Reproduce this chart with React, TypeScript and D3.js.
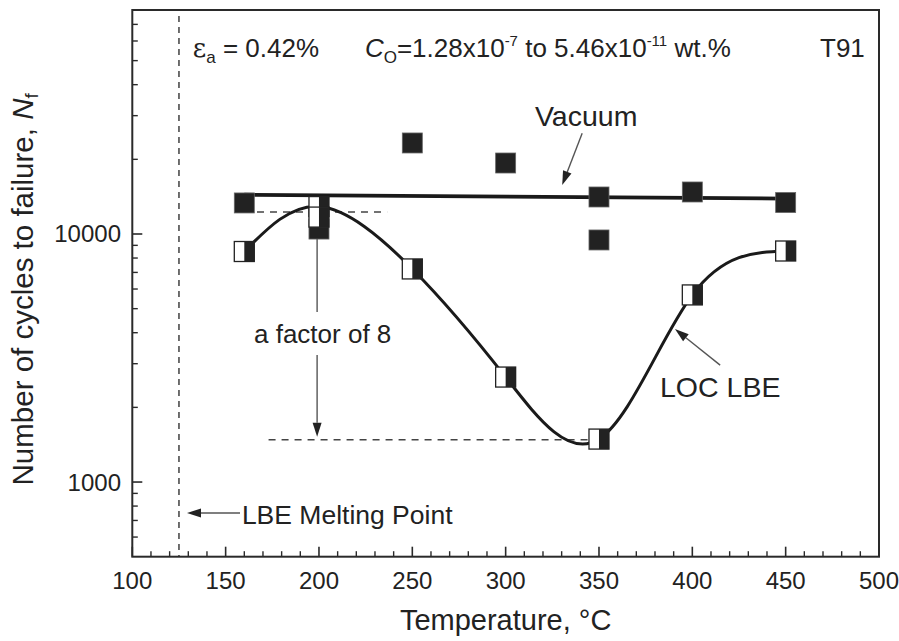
import React from 'react';
import * as d3 from 'd3';

const W = 899;
const H = 641;
const PX = { left: 132.3, right: 879, top: 10, bottom: 556.7 };

// Axis definitions
const xDomain = [100, 500];
const yDomain = [500, 80000];
const xTickLabels = [100, 150, 200, 250, 300, 350, 400, 450, 500];
const yTickLabels = [1000, 10000];

// Vacuum (filled squares)
const vacuumT = [160, 200, 250, 300, 350, 350, 400, 450];
const vacuumN = [13340, 10470, 23280, 19330, 14100, 9460, 14770, 13390];
// Vacuum fit line
const vacuumFitT = [160, 450];
const vacuumFitN = [14400, 13900];

// LOC LBE (half-filled squares)
const lbeT = [160, 200, 200, 250, 300, 350, 400, 450];
const lbeN = [8500, 12900, 11700, 7230, 2650, 1490, 5680, 8540];
// LOC LBE smooth curve through points
const lbeCurveT = [160, 200, 250, 300, 350, 400, 450];
const lbeCurveN = [8500, 12900, 7230, 2650, 1490, 5680, 8540];

// Reference lines / annotations (data space)
const meltingT = 125;
const factorTop = 12270;
const factorBottom = 1480;
const factorT = 199;

const FONT = "'Liberation Sans', Arial, Helvetica, sans-serif";

function Arrow({ x1, y1, x2, y2, color = '#555', head = '#222' }: any) {
  const ang = Math.atan2(y2 - y1, x2 - x1);
  const L = 14;
  const w = 4.5;
  const bx = x2 - L * Math.cos(ang);
  const by = y2 - L * Math.sin(ang);
  const px = -Math.sin(ang) * w;
  const py = Math.cos(ang) * w;
  return (
    <g>
      <line x1={x1} y1={y1} x2={bx} y2={by} stroke={color} strokeWidth={1.4} />
      <polygon points={`${x2},${y2} ${bx + px},${by + py} ${bx - px},${by - py}`} fill={head} />
    </g>
  );
}

export default function App() {
  const x = d3.scaleLinear().domain(xDomain).range([PX.left, PX.right]);
  const y = d3.scaleLog().domain(yDomain).range([PX.bottom, PX.top]);

  const xMinor = d3.range(110, 500, 10).filter((v) => v % 50 !== 0);
  const yMinor: number[] = [];
  [100, 1000, 10000].forEach((dec) => {
    for (let k = 2; k <= 9; k++) {
      const v = dec * k;
      if (v > yDomain[0] && v < yDomain[1] && v !== 1000 && v !== 10000) yMinor.push(v);
    }
  });
  const yMajor = [1000, 10000];

  const curve = d3
    .line<number>()
    .x((_, i) => x(lbeCurveT[i]))
    .y((_, i) => y(lbeCurveN[i]))
    .curve(d3.curveNatural)(lbeCurveT as any);

  const vacLine = d3
    .line<number>()
    .x((_, i) => x(vacuumFitT[i]))
    .y((_, i) => y(vacuumFitN[i]))(vacuumFitT as any);

  const S = 20;
  const h = S / 2;

  const factorTextY = y(3635);
  const tick = 10;
  const minor = 5.5;

  return (
    <svg width={W} height={H} style={{ position: 'absolute', left: 0, top: 0, background: '#fff' }} fontFamily={FONT}>
      <rect x={0} y={0} width={W} height={H} fill="#fff" />

      {/* melting point dashed line */}
      <line x1={x(meltingT)} x2={x(meltingT)} y1={PX.top + 6} y2={PX.bottom} stroke="#333" strokeWidth={1.4} strokeDasharray="6,5" />

      {/* dashed horizontal reference lines */}
      <line x1={x(166.8)} x2={x(236.5)} y1={y(factorTop)} y2={y(factorTop)} stroke="#444" strokeWidth={1.4} strokeDasharray="7,6" />
      <line x1={x(173)} x2={x(345)} y1={y(factorBottom)} y2={y(factorBottom)} stroke="#444" strokeWidth={1.4} strokeDasharray="7,6" />

      {/* factor arrow */}
      <line x1={x(factorT)} x2={x(factorT)} y1={y(factorTop)} y2={factorTextY - 31} stroke="#555" strokeWidth={1.4} />
      <Arrow x1={x(factorT)} y1={factorTextY + 12} x2={x(factorT)} y2={y(factorBottom) - 3} />
      <text x={x(165.2)} y={factorTextY} fontSize={26} fill="#222">a factor of 8</text>

      {/* vacuum line */}
      <path d={vacLine || ''} fill="none" stroke="#1a1a1a" strokeWidth={3.8} />
      {/* LBE curve */}
      <path d={curve || ''} fill="none" stroke="#1a1a1a" strokeWidth={3} />

      {/* vacuum markers */}
      {vacuumT.map((t, i) => (
        <rect key={'v' + i} x={x(t) - h} y={y(vacuumN[i]) - h} width={S} height={S} fill="#222" stroke="#666" strokeWidth={0.8} />
      ))}
      {/* LBE half-filled markers */}
      {lbeT.map((t, i) => (
        <g key={'l' + i}>
          <rect x={x(t) - h} y={y(lbeN[i]) - h} width={S} height={S} fill="#fff" stroke="#222" strokeWidth={1.3} />
          <rect x={x(t)} y={y(lbeN[i]) - h} width={h} height={S} fill="#222" />
        </g>
      ))}

      {/* annotations */}
      <text x={x(315.7)} y={y(27270)} fontSize={28.5} fill="#222">Vacuum</text>
      <Arrow x1={x(341)} y1={y(25500)} x2={x(330.3)} y2={y(15760)} />
      <text x={x(382.7)} y={y(2200)} fontSize={28.5} fill="#222">LOC LBE</text>
      <Arrow x1={x(414.9)} y1={y(2960)} x2={x(390.7)} y2={y(4140)} />
      <text x={x(158.7)} y={y(677)} fontSize={26.5} fill="#222">LBE Melting Point</text>
      <Arrow x1={x(157.7)} y1={y(750)} x2={x(129.3)} y2={y(750)} />

      <text x={x(132.4)} y={y(51700)} fontSize={26} fill="#222">
        <tspan fontFamily="'DejaVu Serif', 'Liberation Serif', serif">ε</tspan>
        <tspan fontSize={17} dy={6}>a</tspan>
        <tspan dy={-6}> = 0.42%</tspan>
      </text>
      <text x={x(224.6)} y={y(51700)} fontSize={26} fill="#222">
        <tspan fontStyle="italic">C</tspan>
        <tspan fontSize={17} dy={6}>O</tspan>
        <tspan dy={-6}>=1.28x10</tspan>
        <tspan fontSize={15} dy={-11}>-7</tspan>
        <tspan dy={11}> to 5.46x10</tspan>
        <tspan fontSize={15} dy={-11}>-11</tspan>
        <tspan dy={11}> wt.%</tspan>
      </text>
      <text x={x(468.4)} y={y(51700)} fontSize={26} fill="#222">T91</text>

      {/* frame */}
      <rect x={PX.left} y={PX.top} width={PX.right - PX.left} height={PX.bottom - PX.top} fill="none" stroke="#2a2a2a" strokeWidth={2} />

      {/* x ticks */}
      {xTickLabels.map((v) => (
        <g key={'xt' + v}>
          <line x1={x(v)} x2={x(v)} y1={PX.bottom} y2={PX.bottom - tick} stroke="#2a2a2a" strokeWidth={1.6} />
          <text x={x(v)} y={589} fontSize={24} textAnchor="middle" fill="#222">{v}</text>
        </g>
      ))}
      {xMinor.map((v) => (
        <line key={'xm' + v} x1={x(v)} x2={x(v)} y1={PX.bottom} y2={PX.bottom - minor} stroke="#2a2a2a" strokeWidth={1.4} />
      ))}
      {/* y ticks */}
      {yMajor.map((v) => (
        <line key={'ym' + v} x1={PX.left} x2={PX.left + tick} y1={y(v)} y2={y(v)} stroke="#2a2a2a" strokeWidth={1.6} />
      ))}
      {yMinor.map((v) => (
        <line key={'yn' + v} x1={PX.left} x2={PX.left + minor} y1={y(v)} y2={y(v)} stroke="#2a2a2a" strokeWidth={1.4} />
      ))}
      {yTickLabels.map((v) => (
        <text key={'yl' + v} x={121} y={y(v) + 8.5} fontSize={24} textAnchor="end" fill="#222">{v}</text>
      ))}

      {/* axis titles */}
      <text x={(PX.left + PX.right) / 2} y={630} fontSize={29} textAnchor="middle" fill="#222">Temperature, °C</text>
      <text transform={`translate(33, ${(PX.top + PX.bottom) / 2 + 6}) rotate(-90)`} fontSize={29.5} textAnchor="middle" fill="#222">
        Number of cycles to failure, <tspan fontStyle="italic">N</tspan>
        <tspan fontSize={19} dy={5}>f</tspan>
      </text>
    </svg>
  );
}
